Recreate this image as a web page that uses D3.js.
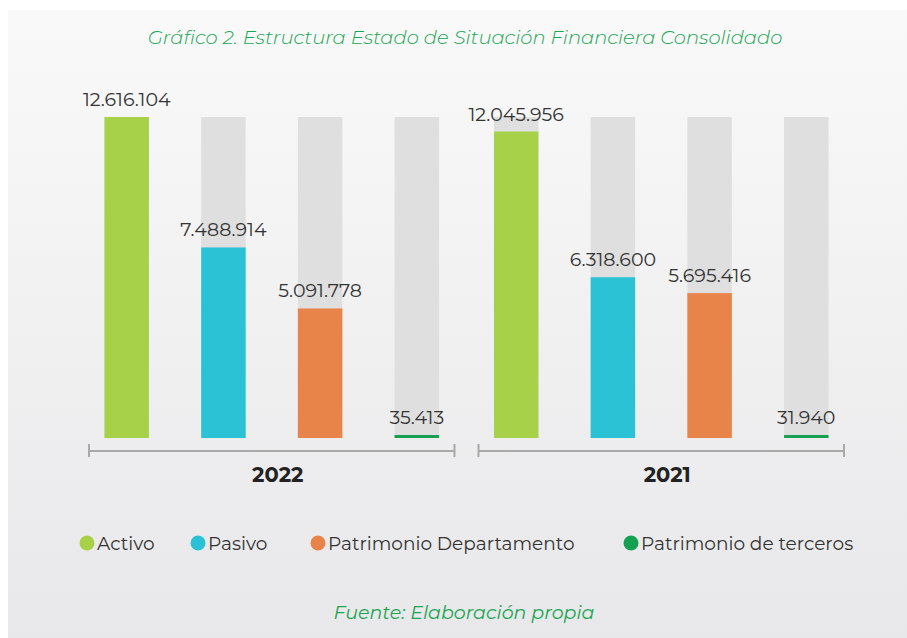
<!DOCTYPE html>
<html>
<head>
<meta charset="utf-8">
<script src="https://cdn.jsdelivr.net/npm/d3@7"></script>
<style>
  html, body { margin: 0; padding: 0; background: #fff; }
  svg { display: block; }
</style>
</head>
<body>
<svg id="chart"></svg>
<script>
// Data
const years = ["2022", "2021"];
const series = ["Activo", "Pasivo", "Patrimonio Departamento", "Patrimonio de terceros"];
const values2022 = [12616104, 7488914, 5091778, 35413];
const values2021 = [12045956, 6318600, 5695416, 31940];
const colors = ["#a8d14a", "#2bc2d6", "#e8844a", "#16a152"];

const valuesByYear = { "2022": values2022, "2021": values2021 };
const rows = years.flatMap(y => series.map((s, i) => ({ year: y, key: s, value: valuesByYear[y][i] })));

const width = 907, height = 638;
const svg = d3.select("#chart").attr("width", width).attr("height", height);

// panel background with vertical gradient
const defs = svg.append("defs");
const grad = defs.append("linearGradient").attr("id", "bg").attr("x1", 0).attr("y1", 0).attr("x2", 0).attr("y2", 1);
grad.append("stop").attr("offset", "0%").attr("stop-color", "#f9f9f9");
grad.append("stop").attr("offset", "100%").attr("stop-color", "#e8e8ea");
svg.append("rect").attr("x", 8).attr("y", 10).attr("width", width - 8).attr("height", height - 10).attr("fill", "url(#bg)");

const font = "Montserrat, 'Open Sans', sans-serif";

// title
svg.append("text")
  .attr("x", 465).attr("y", 44)
  .attr("text-anchor", "middle")
  .style("font-family", font).style("font-style", "italic").style("font-weight", 300)
  .style("font-size", "19.5px").attr("fill", "#1aa553")
  .text("Gráfico 2. Estructura Estado de Situación Financiera Consolidado");

// scales
const x0 = d3.scaleBand().domain(years).range([89, 844]).paddingInner(0.0616).paddingOuter(0);
const x1 = d3.scaleBand().domain(series).range([0, x0.bandwidth()]).paddingInner(0.54).paddingOuter(0.16);
const y = d3.scaleLinear().domain([0, d3.max(rows, d => d.value)]).range([438, 117]);

const groups = svg.selectAll("g.year").data(years).join("g")
  .attr("class", "year")
  .attr("transform", d => `translate(${x0(d)},0)`);

// background bars
groups.selectAll("rect.bgbar").data(d => rows.filter(r => r.year === d)).join("rect")
  .attr("class", "bgbar")
  .attr("x", d => x1(d.key)).attr("width", x1.bandwidth())
  .attr("y", y.range()[1]).attr("height", y.range()[0] - y.range()[1])
  .attr("fill", "#dfdfdf");

// value bars (tiny values kept visible as a thin strip)
groups.selectAll("rect.bar").data(d => rows.filter(r => r.year === d)).join("rect")
  .attr("class", "bar")
  .attr("x", d => x1(d.key)).attr("width", x1.bandwidth())
  .attr("y", d => Math.min(y(d.value), y(0) - 3))
  .attr("height", d => Math.max(y(0) - y(d.value), 3))
  .attr("fill", d => colors[series.indexOf(d.key)]);

// value labels
const fmt = v => d3.format(",")(v).replace(/,/g, ".");
groups.selectAll("text.val").data(d => rows.filter(r => r.year === d)).join("text")
  .attr("class", "val")
  .attr("x", d => x1(d.key) + x1.bandwidth() / 2)
  .attr("y", d => Math.min(y(d.value), y(0) - 3) - 11)
  .attr("text-anchor", "middle")
  .style("font-family", font).style("font-size", "19px")
  .attr("fill", "#333")
  .text(d => fmt(d.value));

// year brackets
groups.append("line")
  .attr("x1", 0).attr("x2", x0.bandwidth()).attr("y1", 451).attr("y2", 451)
  .attr("stroke", "#a9a9a9").attr("stroke-width", 2);
groups.selectAll("line.tick").data([0, x0.bandwidth()]).join("line")
  .attr("class", "tick")
  .attr("x1", d => d).attr("x2", d => d).attr("y1", 444).attr("y2", 457)
  .attr("stroke", "#a9a9a9").attr("stroke-width", 2);
groups.append("text")
  .attr("x", x0.bandwidth() / 2 + 6).attr("y", 482)
  .attr("text-anchor", "middle")
  .style("font-family", font).style("font-weight", 700).style("font-size", "21px")
  .attr("fill", "#222")
  .text(d => d);

// legend
const legendX = [87, 198, 318, 631];
const legend = svg.selectAll("g.legend").data(series).join("g")
  .attr("class", "legend")
  .attr("transform", (d, i) => `translate(${legendX[i]},543)`);
legend.append("circle").attr("r", 7.5).attr("fill", (d, i) => colors[i]);
legend.append("text")
  .attr("x", 10).attr("y", 7)
  .style("font-family", font).style("font-size", "18.5px")
  .attr("fill", "#333")
  .text(d => d);

// source
svg.append("text")
  .attr("x", 464).attr("y", 619)
  .attr("text-anchor", "middle")
  .style("font-family", font).style("font-style", "italic").style("font-size", "19px")
  .attr("fill", "#1aa553")
  .text("Fuente: Elaboración propia");
</script>
</body>
</html>
